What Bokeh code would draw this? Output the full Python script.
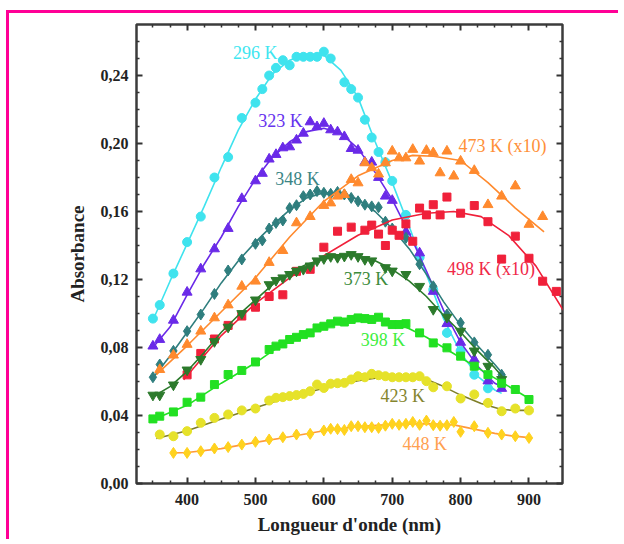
from bokeh.plotting import figure
from bokeh.models import FixedTicker, LinearAxis, Range1d, Label
from bokeh.embed import file_html
from bokeh.resources import INLINE

# ---------------- data ----------------
nm_296 = [350, 360, 380, 400, 420, 440, 460, 480, 500, 510, 520, 530, 540, 550, 560, 570, 580, 590, 600, 610,
          630, 640, 650, 660, 670, 680, 690, 700, 720, 740, 760, 780, 800, 820, 840]
a_296 = [0.097, 0.105, 0.1235, 0.142, 0.157, 0.180, 0.192, 0.215, 0.224, 0.232, 0.240, 0.2445, 0.249, 0.246,
         0.251, 0.251, 0.251, 0.251, 0.254, 0.250, 0.236, 0.232, 0.227, 0.214, 0.2035, 0.195, 0.189, 0.178,
         0.158, 0.133, 0.114, 0.0886, 0.078, 0.064, 0.056]
fit_nm_296 = [350, 375, 400, 425, 450, 475, 500, 525, 550, 575, 600, 625, 650, 675, 700, 725, 750, 775, 800, 825, 850, 860]
fit_a_296 = [0.096, 0.119, 0.141, 0.163, 0.186, 0.208, 0.226, 0.241, 0.249, 0.2525, 0.252, 0.243, 0.227, 0.201,
             0.177, 0.151, 0.123, 0.097, 0.077, 0.063, 0.055, 0.053]

nm_323 = [350, 360, 380, 400, 420, 440, 460, 480, 500, 510, 520, 530, 540, 550, 560, 570, 580, 590, 600, 610,
          620, 630, 640, 650, 660, 670, 680, 690, 700, 720, 740, 760, 780, 800, 820, 840, 860]
a_323 = [0.0808, 0.0847, 0.0960, 0.1125, 0.1262, 0.138, 0.150, 0.1676, 0.178, 0.1824, 0.1908, 0.1935, 0.1974,
         0.198, 0.202, 0.206, 0.2127, 0.2098, 0.2118, 0.208, 0.2068, 0.204, 0.197, 0.196, 0.189, 0.189, 0.180,
         0.169, 0.1665, 0.148, 0.1356, 0.113, 0.094, 0.083, 0.073, 0.0603, 0.0559]
fit_nm_323 = [350, 375, 400, 425, 450, 475, 500, 525, 550, 575, 600, 625, 650, 675, 700, 725, 750, 775, 800, 825, 850, 865]
fit_a_323 = [0.080, 0.092, 0.111, 0.129, 0.145, 0.163, 0.179, 0.192, 0.201, 0.207, 0.209, 0.206, 0.197, 0.183,
             0.167, 0.147, 0.125, 0.102, 0.083, 0.069, 0.059, 0.056]

nm_348 = [350, 360, 380, 400, 420, 440, 460, 480, 500, 510, 520, 530, 540, 550, 560, 570, 580, 590, 600, 610,
          620, 630, 640, 650, 660, 670, 680, 690, 700, 720, 740, 760, 780, 800, 820, 840, 860]
a_348 = [0.0625, 0.070, 0.078, 0.0896, 0.0994, 0.1115, 0.1253, 0.1318, 0.141, 0.143, 0.150, 0.1533, 0.1547,
         0.162, 0.1637, 0.169, 0.170, 0.172, 0.171, 0.1704, 0.1715, 0.170, 0.168, 0.166, 0.164, 0.163, 0.1625,
         0.154, 0.150, 0.1445, 0.129, 0.116, 0.0994, 0.0945, 0.083, 0.0757, 0.064]
fit_nm_348 = [350, 375, 400, 425, 450, 475, 500, 525, 550, 575, 600, 625, 650, 675, 700, 725, 750, 775, 800, 825, 850, 865]
fit_a_348 = [0.062, 0.075, 0.089, 0.103, 0.118, 0.131, 0.142, 0.152, 0.161, 0.168, 0.171, 0.171, 0.167, 0.160,
             0.150, 0.138, 0.123, 0.107, 0.093, 0.081, 0.070, 0.063]

nm_373 = [350, 360, 380, 400, 420, 440, 460, 480, 500, 520, 530, 540, 550, 560, 570, 580, 590, 600, 610, 620,
          630, 640, 650, 660, 670, 690, 700, 720, 740, 760, 780, 800, 820, 840, 860]
a_373 = [0.052, 0.052, 0.058, 0.0668, 0.073, 0.0835, 0.092, 0.100, 0.108, 0.117, 0.1195, 0.121, 0.123, 0.125,
         0.126, 0.128, 0.131, 0.1323, 0.1335, 0.133, 0.1337, 0.1347, 0.1335, 0.1318, 0.131, 0.127, 0.125, 0.123,
         0.116, 0.1024, 0.0978, 0.0896, 0.078, 0.069, 0.0612]
fit_nm_373 = [350, 375, 400, 425, 450, 475, 500, 525, 550, 575, 600, 625, 650, 675, 700, 725, 750, 775, 800, 825, 850, 865]
fit_a_373 = [0.051, 0.057, 0.066, 0.077, 0.089, 0.099, 0.108, 0.117, 0.124, 0.129, 0.132, 0.134, 0.134, 0.131,
             0.126, 0.119, 0.110, 0.099, 0.089, 0.078, 0.068, 0.061]

nm_398 = [350, 360, 380, 400, 420, 440, 460, 480, 500, 520, 530, 540, 550, 560, 570, 580, 590, 600, 610, 620,
          630, 640, 650, 660, 670, 680, 690, 700, 710, 720, 740, 760, 780, 800, 820, 840, 860, 880, 900]
a_398 = [0.038, 0.0396, 0.0421, 0.0478, 0.0508, 0.0582, 0.0641, 0.0665, 0.0715, 0.0788, 0.0808, 0.0821, 0.0847,
         0.086, 0.0876, 0.0886, 0.0915, 0.0925, 0.0939, 0.0955, 0.095, 0.0965, 0.0974, 0.097, 0.0965, 0.0978,
         0.095, 0.0935, 0.0935, 0.094, 0.0886, 0.0827, 0.0798, 0.0749, 0.069, 0.064, 0.059, 0.0553, 0.0494]
fit_nm_398 = [350, 400, 450, 500, 525, 550, 575, 600, 625, 650, 675, 700, 725, 750, 775, 800, 825, 850, 875, 900]
fit_a_398 = [0.0375, 0.046, 0.059, 0.071, 0.078, 0.084, 0.088, 0.092, 0.095, 0.097, 0.097, 0.095, 0.091, 0.086,
             0.080, 0.074, 0.068, 0.062, 0.056, 0.050]

nm_423 = [360, 380, 400, 420, 440, 460, 480, 500, 520, 530, 540, 550, 560, 570, 580, 590, 600, 610, 620, 630,
          640, 650, 660, 670, 680, 690, 700, 710, 720, 730, 740, 750, 760, 780, 800, 820, 840, 860, 880, 900]
a_423 = [0.0288, 0.0278, 0.0308, 0.0357, 0.0386, 0.0406, 0.043, 0.0441, 0.0488, 0.0504, 0.0508, 0.0514, 0.052,
         0.0527, 0.0543, 0.0582, 0.0562, 0.0587, 0.059, 0.0592, 0.0612, 0.0631, 0.0625, 0.0645, 0.0637, 0.0631,
         0.0625, 0.0625, 0.0625, 0.0625, 0.0631, 0.0602, 0.0566, 0.0572, 0.050, 0.0524, 0.0474, 0.0425, 0.0441, 0.043]
fit_nm_423 = [355, 400, 450, 500, 550, 600, 650, 675, 700, 725, 745, 770, 800, 830, 860, 880, 900]
fit_a_423 = [0.0265, 0.031, 0.038, 0.0445, 0.051, 0.056, 0.0605, 0.062, 0.0625, 0.0625, 0.062, 0.058, 0.052,
             0.047, 0.0435, 0.043, 0.043]

nm_448 = [380, 400, 420, 440, 460, 480, 500, 520, 540, 560, 580, 600, 610, 620, 630, 640, 650, 660, 670, 680,
          690, 700, 710, 720, 730, 740, 750, 760, 770, 780, 790, 800, 820, 840, 860, 880, 900]
a_448 = [0.018, 0.018, 0.019, 0.0206, 0.0214, 0.0229, 0.0245, 0.0259, 0.0272, 0.0288, 0.0292, 0.0312, 0.0322,
         0.032, 0.0315, 0.0337, 0.0337, 0.0331, 0.0331, 0.0327, 0.034, 0.0351, 0.0345, 0.0351, 0.0362, 0.0345,
         0.037, 0.0343, 0.034, 0.0343, 0.0362, 0.0304, 0.0337, 0.0298, 0.0288, 0.0278, 0.0268]
fit_nm_448 = [380, 400, 450, 500, 550, 600, 650, 700, 750, 790, 820, 850, 875, 900]
fit_a_448 = [0.018, 0.0182, 0.0205, 0.0242, 0.0275, 0.031, 0.0335, 0.0348, 0.0352, 0.0345, 0.032, 0.0295, 0.028, 0.027]

nm_473 = [360, 380, 400, 420, 440, 460, 480, 500, 520, 540, 560, 580, 600, 610, 620, 630, 640, 650, 660, 670,
          680, 690, 700, 710, 720, 730, 740, 750, 760, 770, 780, 790, 800, 820, 840, 860, 880, 900, 920]
a_473 = [0.067, 0.0755, 0.0818, 0.0896, 0.0974, 0.105, 0.116, 0.119, 0.130, 0.137, 0.1533, 0.157, 0.1635, 0.165,
         0.169, 0.170, 0.1788, 0.1768, 0.1886, 0.1857, 0.182, 0.1886, 0.1955, 0.1915, 0.1915, 0.1965, 0.1896,
         0.1959, 0.1945, 0.1827, 0.1955, 0.1808, 0.1896, 0.1841, 0.164, 0.169, 0.175, 0.1524, 0.157]
fit_nm_473 = [355, 400, 450, 500, 550, 600, 650, 700, 730, 760, 800, 840, 880, 922]
fit_a_473 = [0.064, 0.081, 0.101, 0.121, 0.145, 0.166, 0.181, 0.190, 0.193, 0.1925, 0.190, 0.177, 0.162, 0.148]

nm_498 = [400, 420, 440, 460, 480, 500, 520, 540, 560, 580, 600, 620, 640, 660, 670, 680, 690, 700, 710, 720,
          730, 740, 750, 760, 770, 780, 800, 820, 840, 860, 880, 900, 920, 940]
a_498 = [0.0639, 0.0765, 0.085, 0.093, 0.0985, 0.1037, 0.110, 0.111, 0.1248, 0.126, 0.139, 0.1484, 0.1508, 0.149,
         0.152, 0.1467, 0.140, 0.149, 0.146, 0.1527, 0.1425, 0.162, 0.158, 0.164, 0.158, 0.1685, 0.159, 0.1635,
         0.154, 0.132, 0.1455, 0.1325, 0.119, 0.113]
fit_nm_498 = [395, 450, 500, 550, 600, 650, 700, 750, 790, 830, 870, 910, 950]
fit_a_498 = [0.061, 0.087, 0.106, 0.121, 0.134, 0.146, 0.155, 0.159, 0.160, 0.157, 0.146, 0.128, 0.102]

x_ticks = [400, 500, 600, 700, 800, 900]
x_minor = [325, 350, 375, 425, 450, 475, 525, 550, 575, 625, 650, 675, 725, 750, 775, 825, 850, 875, 925, 950]
y_ticks = [0.0, 0.04, 0.08, 0.12, 0.16, 0.20, 0.24]
y_tick_labels = ["0,00", "0,04", "0,08", "0,12", "0,16", "0,20", "0,24"]
y_minor = [0.01, 0.02, 0.03, 0.05, 0.06, 0.07, 0.09, 0.10, 0.11, 0.13, 0.14, 0.15, 0.17, 0.18, 0.19,
           0.21, 0.22, 0.23, 0.25, 0.26]

series = [
    # name, nm, a, fit nm, fit a, marker, size, marker colour, line colour
    ("296 K", nm_296, a_296, fit_nm_296, fit_a_296, "circle", 9, "#3FE3EE", "#3FE3EE"),
    ("323 K", nm_323, a_323, fit_nm_323, fit_a_323, "triangle", 10, "#6A2AE8", "#6A2AE8"),
    ("348 K", nm_348, a_348, fit_nm_348, fit_a_348, "diamond", 11, "#2F7E7E", "#2F7E7E"),
    ("473 K (x10)", nm_473, a_473, fit_nm_473, fit_a_473, "triangle", 10, "#FF8A2E", "#FF8A2E"),
    ("498 K (x10)", nm_498, a_498, fit_nm_498, fit_a_498, "square", 8, "#F0203A", "#F0203A"),
    ("373 K", nm_373, a_373, fit_nm_373, fit_a_373, "inverted_triangle", 10, "#2C7A2C", "#2C7A2C"),
    ("398 K", nm_398, a_398, fit_nm_398, fit_a_398, "square", 8, "#22E022", "#22E022"),
    ("423 K", nm_423, a_423, fit_nm_423, fit_a_423, "circle", 9, "#E6E22A", "#7F7F28"),
    ("448 K", nm_448, a_448, fit_nm_448, fit_a_448, "diamond", 11, "#FFD21E", "#FF9A3A"),
]

labels = [
    ("296 K", 467, 0.253, "#40E6F0"),
    ("323 K", 504, 0.2131, "#6633EE"),
    ("348 K", 529, 0.1793, "#3A8585"),
    ("373 K", 629, 0.1202, "#3D8C3D"),
    ("398 K", 654, 0.0843, "#40EE40"),
    ("423 K", 683, 0.0514, "#85852E"),
    ("448 K", 715, 0.0231, "#FFA050"),
    ("473 K (x10)", 797, 0.1984, "#FF9038"),
    ("498 K (x10)", 780, 0.126, "#F02848"),
]

SERIF = "Liberation Serif"

p = figure(output_backend="svg", toolbar_location=None,
           frame_width=426, frame_height=459,
           x_range=Range1d(326, 949), y_range=Range1d(0, 0.27),
           min_border_left=127, min_border_top=11, min_border_right=56, min_border_bottom=56,
           background_fill_color="white", border_fill_color="white")
p.margin = (10, 0, 0, 6)
p.styles = {"border-top": "3px solid #FF0096", "border-left": "3px solid #FF0096"}
p.grid.visible = False
p.outline_line_color = "#3C3C3C"
p.outline_line_width = 2.5

def style_axis(ax, ticks, show_labels):
    ax.axis_line_color = None
    ax.major_tick_line_color = "#333333"
    ax.minor_tick_line_color = "#333333"
    ax.major_tick_line_width = 2
    ax.minor_tick_line_width = 1.5
    ax.major_tick_in = 6
    ax.major_tick_out = 0
    ax.minor_tick_in = 3
    ax.minor_tick_out = 0
    if not show_labels:
        ax.major_label_overrides = {t: "" for t in ticks}
        ax.major_label_standoff = 0

xt = FixedTicker(ticks=x_ticks, minor_ticks=x_minor)
yt = FixedTicker(ticks=y_ticks, minor_ticks=y_minor)

p.xaxis.ticker = xt
p.yaxis.ticker = yt
p.yaxis.major_label_overrides = {t: s for t, s in zip(y_ticks, y_tick_labels)}
style_axis(p.xaxis[0], x_ticks, True)
style_axis(p.yaxis[0], y_ticks, True)
for ax in (p.xaxis[0], p.yaxis[0]):
    ax.major_label_text_font = SERIF
    ax.major_label_text_font_style = "bold"
    ax.major_label_text_font_size = "16px"
    ax.major_label_text_color = "#222222"
    ax.axis_label_text_font = SERIF
    ax.axis_label_text_font_style = "bold"
    ax.axis_label_text_font_size = "19px"
    ax.axis_label_text_color = "#222222"
p.xaxis.major_label_standoff = 10
p.yaxis.major_label_standoff = 8
p.xaxis.axis_label = "Longueur d'onde (nm)"
p.yaxis.axis_label = "Absorbance"
p.xaxis.axis_label_standoff = 6
p.yaxis.axis_label_standoff = 10

top = LinearAxis(ticker=FixedTicker(ticks=x_ticks, minor_ticks=x_minor))
style_axis(top, x_ticks, False)
p.add_layout(top, "above")
right = LinearAxis(ticker=FixedTicker(ticks=y_ticks, minor_ticks=y_minor))
style_axis(right, y_ticks, False)
p.add_layout(right, "right")

for name, xs, ys, fx, fy, mk, sz, mc, lc in series:
    p.line(fx, fy, line_color=lc, line_width=1.6)
    p.scatter(xs, ys, marker=mk, size=sz, fill_color=mc, line_color=mc, line_width=1)

for txt, lx, ly, col in labels:
    p.add_layout(Label(x=lx, y=ly, text=txt, text_font=SERIF, text_font_size="18px",
                       text_color=col, text_baseline="middle", text_align="left"))

open("out.html", "w").write(file_html(p, INLINE))
